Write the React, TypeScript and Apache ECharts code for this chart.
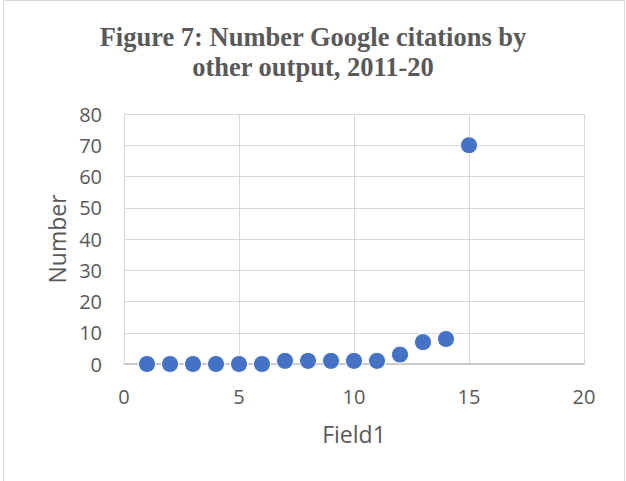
import React, { useEffect, useRef } from "react";
import * as echarts from "echarts";

// Citation counts per output, indexed by Field1
const field1 = [1, 2, 3, 4, 5, 6, 7, 8, 9, 10, 11, 12, 13, 14, 15];
const citations = [0, 0, 0, 0, 0, 0, 1, 1, 1, 1, 1, 3, 7, 8, 70];

const titleLines = ["Figure 7: Number Google citations by", "other output, 2011-20"];

const labelFont = "'Open Sans', 'Liberation Sans', sans-serif";

export default function App() {
  const ref = useRef<HTMLDivElement>(null);

  useEffect(() => {
    if (!ref.current) return;
    const chart = echarts.init(ref.current, undefined, { renderer: "svg" });
    chart.setOption({
      animation: false,
      backgroundColor: "#ffffff",
      title: {
        text: titleLines.join("\n"),
        left: "center",
        top: 17,
        textStyle: {
          fontFamily: "'Liberation Serif', 'Times New Roman', serif",
          fontWeight: "bold",
          fontSize: 26.5,
          color: "#595959",
          lineHeight: 30,
        },
      },
      graphic: [
        {
          type: "rect",
          shape: { x: 3.5, y: 0.5, width: 621, height: 482 },
          style: { fill: "none", stroke: "#d9d9d9", lineWidth: 1 },
          silent: true,
        },
      ],
      grid: { left: 124, top: 114, width: 460, height: 250 },
      xAxis: {
        type: "value",
        min: 0,
        max: 20,
        interval: 5,
        name: "Field1",
        nameLocation: "middle",
        nameGap: 58,
        nameTextStyle: { fontFamily: labelFont, fontSize: 23, color: "#595959" },
        axisLine: { show: true, onZero: false, lineStyle: { color: "#bfbfbf", width: 1.5 } },
        axisTick: { show: false },
        axisLabel: { margin: 22, fontFamily: labelFont, fontSize: 20, color: "#595959" },
        splitLine: { show: true, lineStyle: { color: "#d9d9d9", width: 1 } },
      },
      yAxis: {
        type: "value",
        min: 0,
        max: 80,
        interval: 10,
        name: "Number",
        nameLocation: "middle",
        nameGap: 56,
        nameRotate: 90,
        nameTextStyle: { fontFamily: labelFont, fontSize: 23, color: "#595959" },
        axisLine: { show: false },
        axisTick: { show: false },
        axisLabel: { margin: 22, fontFamily: labelFont, fontSize: 20, color: "#595959" },
        splitLine: { show: true, lineStyle: { color: "#d9d9d9", width: 1 } },
      },
      series: [
        {
          type: "scatter",
          data: field1.map((x, i) => [x, citations[i]]),
          symbol: "circle",
          symbolSize: 17,
          itemStyle: { color: "#4472c4", opacity: 1, borderColor: "#ffffff", borderWidth: 1 },
        },
      ],
    });
    return () => chart.dispose();
  }, []);

  return (
    <div
      ref={ref}
      style={{ position: "fixed", left: 0, top: 0, width: 626, height: 481 }}
    />
  );
}
